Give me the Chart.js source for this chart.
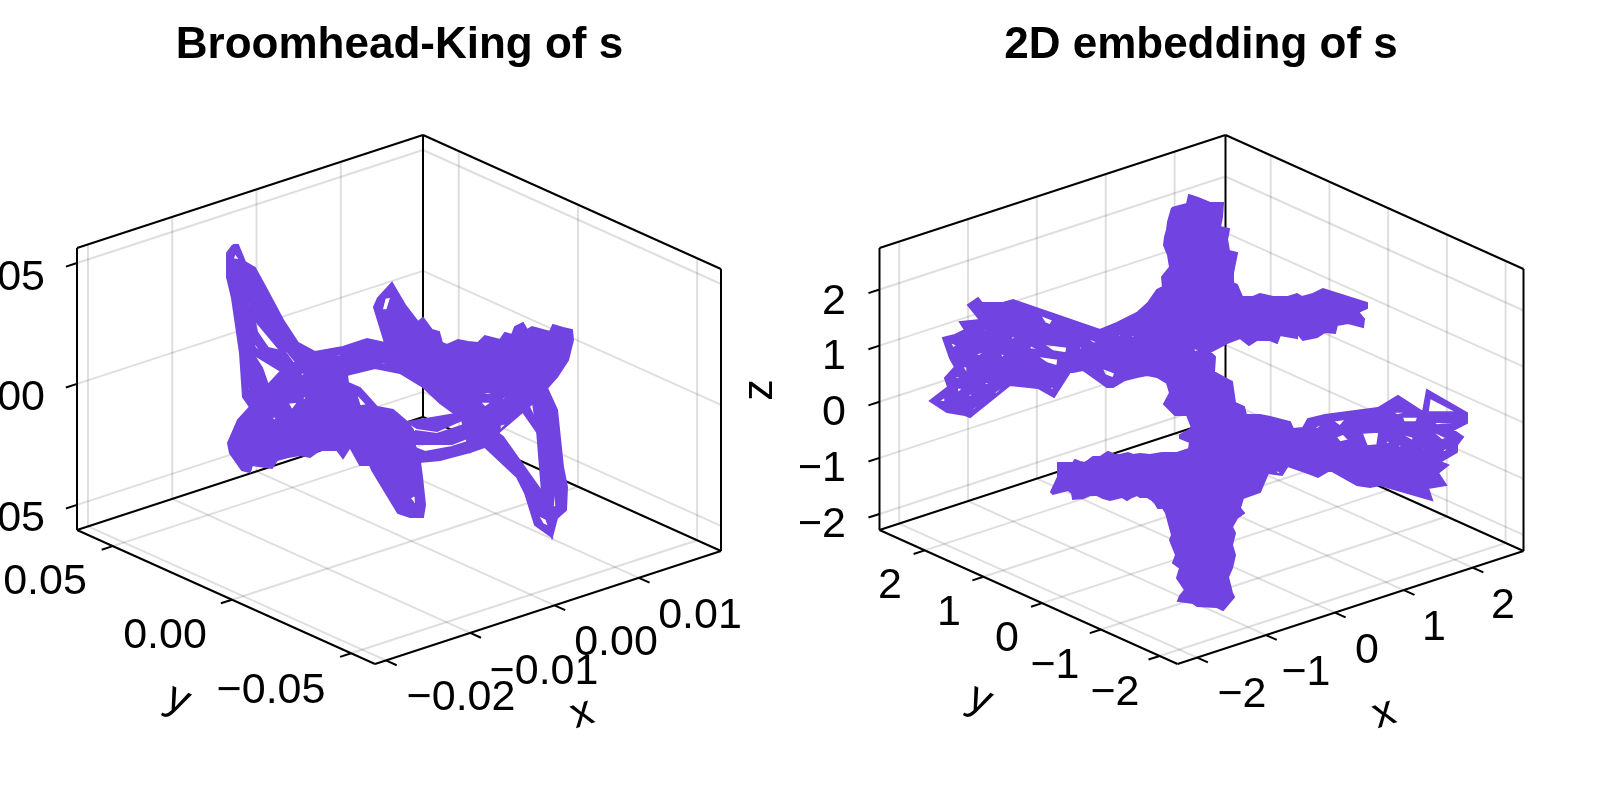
<!DOCTYPE html>
<html>
<head>
<meta charset="utf-8">
<title>Broomhead-King and 2D embedding of s</title>
<script src="https://cdn.jsdelivr.net/npm/chart.js@4/dist/chart.umd.min.js"></script>
<style>
  html, body { margin: 0; padding: 0; background: #fff; }
  #wrap { display: flex; width: 1600px; height: 800px; overflow: hidden; }
  canvas { display: block; }
</style>
</head>
<body>
<div id="wrap">
  <canvas id="leftChart" width="800" height="800"></canvas>
  <canvas id="rightChart" width="800" height="800"></canvas>
</div>
<script>
// axis values
const bkXTicks = [-0.02, -0.01, 0, 0.01];
const bkXLabels = ['−0.02', '−0.01', '0.00', '0.01'];
const bkYTicks = [-0.05, 0, 0.05];
const bkYLabels = ['−0.05', '0.00', '0.05'];
const bkZTicks = [-0.05, 0, 0.05];
const bkZLabels = ['−0.05', '0.00', '0.05'];
const bkXLimits = [-0.0213, 0.01975];
const bkYLimits = [-0.06, 0.065];
const bkZLimits = [-0.0604, 0.0562];

const embTicks = [-2, -1, 0, 1, 2];
const embLabels = ['−2', '−1', '0', '1', '2'];
const embXLimits = [-2.286, 2.739];
const embYLimits = [-2.305, 2.77];
const embZLimits = [-2.286, 2.739];

// traces, in page pixels
const bkSpineOuter = [[233,245],[238,245],[245,262],[255,268],[267,290],[283,320],[298,343],[315,352],[330,368],[296,362],[287,351],[280,350],[255,320],[250,300],[227,277],[227,253]];
const bkSpineOuterHoles = [[[235,253],[240,260],[233,259]]];
const bkSpineMiddle = [[250,300],[257,332],[268,348],[285,352],[293,363],[281,371],[253,354],[255,348],[262,353],[253,340]];
const bkSpineInner = [[227,277],[248,298],[253,340],[255,348],[253,354],[262,368],[268,385],[250,407],[243,397],[240,353],[232,298]];
const bkSpineInnerHoles = [[[248,380],[250,390],[248,390]]];
const bkMass = [[250,407],[238,420],[228,443],[230,453],[242,470],[250,472],[252,465],[272,468],[277,460],[288,457],[300,455],[310,457],[320,450],[337,450],[343,458],[350,447],[360,465],[370,465],[372,470],[398,513],[410,517],[423,517],[425,505],[422,477],[420,462],[415,446],[413,430],[407,422],[393,410],[377,407],[360,388],[348,383],[347,375],[330,365],[315,352],[296,362],[281,371],[268,385]];
const bkMassHoles = [
    [[300,373],[306,373],[302,376]], [[283,387],[290,385],[285,388]], [[288,403],[298,402],[292,410]],
    [[302,398],[307,395],[305,400]], [[272,417],[277,417],[274,421]], [[356,393],[367,405],[360,406]],
    [[402,497],[405,497],[403,500]], [[410,498],[415,495],[416,506]]
];
const bkArc = [[315,352],[343,347],[367,339],[385,343],[374,307],[378,298],[392,283],[405,305],[418,322],[423,318],[432,330],[439,332],[442,343],[447,345],[458,340],[468,342],[478,343],[485,336],[500,340],[505,333],[512,335],[515,327],[523,323],[527,330],[532,327],[550,332],[553,325],[563,328],[572,330],[573,340],[568,360],[557,377],[547,388],[533,403],[498,433],[470,452],[462,420],[455,414],[440,403],[423,387],[400,373],[375,368],[347,375],[330,365]];
const bkArcHoles = [
    [[385,298],[391,297],[387,310],[382,310]],
    [[332,355],[348,353],[340,356]], [[388,353],[397,355],[392,354]], [[380,362],[393,363],[382,364]],
    [[483,393],[500,391],[487,395]], [[480,402],[492,402],[485,407]], [[502,398],[507,395],[504,400]],
    [[500,425],[507,423],[500,431]]
];
const bkBandTop = [[407,422],[420,420],[455,414],[462,420],[437,431],[417,428]];
const bkBandMiddle = [[415,431],[437,434],[470,423],[475,435],[452,444],[415,444]];
const bkBandBottom = [[415,448],[425,452],[452,447],[480,438],[498,433],[485,447],[470,452],[440,460],[420,462]];
const bkLegLeft = [[485,447],[498,433],[503,437],[542,492],[548,515],[552,537],[535,525],[525,493],[517,477]];
const bkLegLeftHoles = [[[538,515],[546,519],[549,527],[543,524]]];
const bkLegMid = [[523,403],[527,403],[537,423],[540,432],[537,432],[523,412]];
const bkLegRight = [[533,403],[547,388],[557,410],[563,467],[567,487],[566,510],[557,518],[552,537],[546,515],[542,492],[537,430]];
const bkLegRightHoles = [[[555,485],[556,507],[553,507]]];

const embOutline = [[1172,208],[1187,204],[1189,195],[1198,198],[1210,203],[1223,203],[1222,217],[1220,227],[1229,229],[1228,235],[1227,239],[1229,251],[1237,253],[1233,273],[1233,283],[1237,285],[1242,297],[1253,297],[1260,294],[1273,297],[1288,297],[1297,294],[1302,297],[1313,294],[1323,289],[1367,303],[1367,308],[1358,312],[1364,319],[1363,327],[1348,323],[1337,325],[1335,333],[1325,332],[1317,337],[1303,340],[1297,333],[1297,338],[1280,335],[1277,343],[1270,340],[1257,340],[1249,345],[1240,338],[1227,343],[1210,352],[1215,357],[1214,372],[1232,382],[1235,403],[1244,407],[1246,415],[1260,415],[1270,417],[1290,422],[1293,429],[1303,428],
    [1308,419],[1325,415],[1378,408],[1398,396],[1423,412],[1427,390],[1467,413],[1467,423],[1453,430],[1463,437],[1457,445],[1457,452],[1440,462],[1448,465],[1438,473],[1446,485],[1428,488],[1432,500],[1380,485],[1370,487],[1357,485],[1330,470],[1318,477],[1308,473],[1288,466],
    [1287,467],[1282,475],[1268,473],[1260,492],[1243,498],[1240,508],[1244,513],[1237,518],[1232,527],[1235,533],[1232,545],[1235,555],[1232,568],[1228,577],[1232,593],[1234,597],[1223,610],[1217,607],[1197,606],[1193,603],[1178,601],[1180,596],[1185,590],[1177,578],[1180,568],[1173,563],[1176,555],[1170,540],[1172,535],[1166,513],[1163,508],[1158,508],[1155,503],[1152,500],[1147,497],[1140,497],[1137,495],[1132,497],[1127,500],[1122,497],[1110,500],[1103,498],[1097,495],[1090,495],[1083,498],[1073,499],[1072,493],[1068,490],[1053,494],[1051,492],[1058,477],[1058,463],[1073,463],[1075,460],[1080,462],[1085,463],[1093,457],[1100,457],[1108,452],[1115,455],[1120,455],[1128,453],[1133,455],[1140,454],[1150,455],[1162,453],[1167,453],[1177,453],[1189,449],[1190,442],[1180,438],[1180,435],[1192,428],[1187,415],[1175,415],[1164,404],[1170,393],[1167,383],[1157,377],[1147,375],[1137,377],[1125,380],[1113,387],[1107,387],
    [1083,370],[1073,372],[1070,372],[1054,397],[1038,388],[1010,385],[970,417],[965,415],[947,412],[930,401],[948,387],[945,378],[955,367],[950,358],[943,338],[955,335],[965,330],[960,322],[980,320],[968,305],[978,298],[982,303],[1003,303],[1013,300],[1100,330],
    [1117,323],[1137,313],[1148,303],[1157,290],[1163,287],[1162,277],[1170,267],[1168,255],[1164,245],[1165,237],[1167,230],[1168,222]];
const embHoles = [
    // left wing
    [[1040,315],[1053,320],[1050,325],[1045,323]], [[979,327],[993,332],[985,331]], [[1085,337],[1100,343],[1093,343]],
    [[1043,344],[1067,347],[1066,353],[1053,351]], [[1029,345],[1041,350],[1030,349]], [[1077,343],[1084,350],[1080,349]],
    [[950,342],[957,345],[953,348]], [[975,354],[987,351],[979,356]], [[1000,353],[1005,355],[1002,358]],
    [[1037,356],[1058,359],[1057,366],[1047,363]], [[1027,359],[1045,367],[1032,363]], [[962,366],[967,367],[967,374]],
    [[953,375],[962,378],[957,379]], [[985,382],[992,383],[985,385]], [[957,388],[963,388],[958,393]],
    [[968,395],[975,392],[970,397]], [[995,392],[1008,383],[995,395]], [[973,408],[990,398],[972,411]],
    [[939,401],[945,397],[945,402]], [[970,337],[975,342],[972,341]], [[1011,337],[1017,336],[1012,340]],
    [[1050,387],[1054,387],[1052,391]],
    // middle of the upper cross
    [[1102,368],[1115,373],[1113,378],[1105,375]], [[1118,335],[1122,334],[1120,337]], [[1130,335],[1137,337],[1132,338]],
    [[1120,358],[1123,361],[1121,362]], [[1148,368],[1155,369],[1150,370]], [[1163,356],[1167,357],[1164,358]],
    [[1193,348],[1200,350],[1195,352]], [[1210,341],[1214,343],[1211,344]],
    // spots on the lower cross
    [[1212,437],[1215,437],[1213,439]], [[1222,436],[1225,435],[1223,438]], [[1234,435],[1237,434],[1235,436]],
    [[1275,439],[1279,439],[1277,441]], [[1285,448],[1289,450],[1286,451]], [[1274,470],[1282,472],[1278,474]],
    // right wing
    [[1430,398],[1457,412],[1428,412]], [[1402,417],[1418,417],[1416,422],[1404,422]], [[1393,412],[1410,412],[1397,415]],
    [[1433,422],[1455,423],[1437,425]], [[1362,433],[1379,432],[1377,445],[1367,446]], [[1336,437],[1343,434],[1349,440],[1340,442]],
    [[1333,421],[1346,419],[1340,426]], [[1315,427],[1326,422],[1317,429]], [[1398,433],[1413,437],[1413,441]],
    [[1385,441],[1390,441],[1388,445]], [[1397,445],[1402,445],[1400,448]], [[1422,447],[1432,450],[1423,449]],
    [[1442,450],[1449,447],[1445,452]], [[1347,453],[1360,452],[1348,454]], [[1348,472],[1357,477],[1353,475]],
    [[1430,430],[1447,438],[1442,440]]
];

// screen geometry of the box: bottom front corner and the three edges
const boxOrigin = [375, 664];
const edgeX = [346, -113];
const edgeY = [-298, -134];
const edgeZ = [0, -282];
const panelOffset = 802.5;

const purple = '#7143E0';
const gridColor = 'rgba(0,0,0,0.13)';

function frac(v, lim) { return (v - lim[0]) / (lim[1] - lim[0]); }

function project(dx, fx, fy, fz) {
    return {
        x: boxOrigin[0] + dx + fx * edgeX[0] + fy * edgeY[0] + fz * edgeZ[0],
        y: boxOrigin[1] + fx * edgeX[1] + fy * edgeY[1] + fz * edgeZ[1]
    };
}

function pts(list) { return list.map(p => ({ x: p[0], y: p[1] })); }

function area(list) {
    let a = 0;
    list.forEach((p, i) => {
        const q = list[(i + 1) % list.length];
        a += p[0] * q[1] - q[0] * p[1];
    });
    return a;
}

function lineSet(data, color, width, order) {
    return { data, showLine: true, borderColor: color, borderWidth: width, pointRadius: 0, fill: false, order, clip: false, borderJoinStyle: 'miter', borderCapStyle: 'butt' };
}

// filled silhouette of a dense part of the trace. holes run the other way round
// and are stitched in from the first vertex, so the nonzero fill leaves them empty
function shapeSets(outer, holes = []) {
    let path = outer.concat([outer[0]]);
    const sign = Math.sign(area(outer));
    const sets = [];
    holes.forEach(h => {
        const ring = Math.sign(area(h)) === sign ? h.slice().reverse() : h;
        path = path.concat(ring, [ring[0]], [outer[0]]);
        sets.push(lineSet(pts(ring.concat([ring[0]])), purple, 1.5, 1));
    });
    const fillSet = lineSet(pts(path), 'transparent', 1, 1);
    fillSet.fill = 'shape';
    fillSet.backgroundColor = purple;
    sets.push(fillSet, lineSet(pts(outer.concat([outer[0]])), purple, 2, 1));
    return sets;
}

function boxSets(dx, fxs, fys, fzs) {
    const sets = [];
    const add = (a, b, color, w, order) => sets.push(lineSet([project(dx, ...a), project(dx, ...b)], color, w, order));
    fxs.forEach(f => {
        add([f, 1, 0], [f, 1, 1], gridColor, 2, 5);
        add([f, 0, 0], [f, 1, 0], gridColor, 2, 5);
        // tick on the x axis
        sets.push(lineSet([project(dx, f, 0, 0), project(dx, f, -0.036, 0)], '#000', 2, 3));
    });
    fys.forEach(f => {
        add([1, f, 0], [1, f, 1], gridColor, 2, 5);
        add([0, f, 0], [1, f, 0], gridColor, 2, 5);
        sets.push(lineSet([project(dx, 0, f, 0), project(dx, -0.032, f, 0)], '#000', 2, 3));
    });
    fzs.forEach(f => {
        add([0, 1, f], [1, 1, f], gridColor, 2, 5);
        add([1, 0, f], [1, 1, f], gridColor, 2, 5);
        sets.push(lineSet([project(dx, 0, 1, f), project(dx, -0.032, 1, f)], '#000', 2, 3));
    });
    const spines = [
        [[0,1,1],[1,1,1]], [[1,1,1],[1,0,1]], [[1,1,1],[1,1,0]], [[0,1,1],[0,1,0]], [[1,0,1],[1,0,0]],
        [[0,1,0],[1,1,0]], [[1,1,0],[1,0,0]], [[0,1,0],[0,0,0]], [[0,0,0],[1,0,0]]
    ];
    spines.forEach(s => add(s[0], s[1], '#000', 2, 3));
    return sets;
}

// titles, tick labels and axis labels
function textPlugin(items) {
    return {
        id: 'panelText',
        afterDraw(chart) {
            const ctx = chart.ctx;
            const xs = chart.scales.x, ys = chart.scales.y;
            items.forEach(t => {
                ctx.save();
                ctx.translate(xs.getPixelForValue(t.x), ys.getPixelForValue(t.y));
                ctx.rotate((t.rot || 0) * Math.PI / 180);
                ctx.font = (t.bold ? 'bold ' : '') + t.size + 'px "Liberation Sans", Arial, sans-serif';
                ctx.fillStyle = '#000';
                ctx.textAlign = t.align || 'center';
                ctx.textBaseline = 'middle';
                ctx.fillText(t.text, 0, 0);
                ctx.restore();
            });
        }
    };
}

function makePanel(id, xMin, datasets, items) {
    return new Chart(document.getElementById(id), {
        type: 'scatter',
        data: { datasets },
        options: {
            responsive: false,
            animation: false,
            layout: { padding: 0 },
            plugins: { legend: { display: false }, tooltip: { enabled: false } },
            scales: {
                x: { display: false, min: xMin, max: xMin + 800 },
                y: { display: false, min: 0, max: 800, reverse: true }
            }
        },
        plugins: [textPlugin(items)]
    });
}

const tickSize = 43;
const bkPlace = {
    x: [[461,698],[544,672],[616,643],[700,616]],
    y: [[271,691],[165,636],[45,582]],
    z: [[45,519],[45,398],[45,278]]
};
const embPlace = {
    x: [[1242,695],[1306,673],[1367,651],[1434,628],[1503,606]],
    y: [[1115,693],[1055,666],[1007,639],[949,613],[890,586]],
    z: [[846,525],[846,469],[846,413],[846,357],[846,302]]
};

function labelItems(xl, yl, zl, place) {
    const items = [];
    xl.forEach((t, i) => items.push({ text: t, x: place.x[i][0], y: place.x[i][1], size: tickSize }));
    yl.forEach((t, i) => items.push({ text: t, x: place.y[i][0], y: place.y[i][1], size: tickSize }));
    zl.forEach((t, i) => items.push({ text: t, x: place.z[i][0], y: place.z[i][1], size: tickSize, align: 'right' }));
    return items;
}

const leftSets = boxSets(0,
    bkXTicks.map(v => frac(v, bkXLimits)),
    bkYTicks.map(v => frac(v, bkYLimits)),
    bkZTicks.map(v => frac(v, bkZLimits)));
leftSets.push(
    ...shapeSets(bkSpineOuter, bkSpineOuterHoles), ...shapeSets(bkSpineMiddle), ...shapeSets(bkSpineInner, bkSpineInnerHoles),
    ...shapeSets(bkMass, bkMassHoles), ...shapeSets(bkArc, bkArcHoles),
    ...shapeSets(bkBandTop), ...shapeSets(bkBandMiddle), ...shapeSets(bkBandBottom),
    ...shapeSets(bkLegLeft, bkLegLeftHoles), ...shapeSets(bkLegMid), ...shapeSets(bkLegRight, bkLegRightHoles));

const leftItems = labelItems(bkXLabels, bkYLabels, bkZLabels, bkPlace).concat([
    { text: 'Broomhead-King of s', x: 399.5, y: 46, size: 44, bold: true },
    { text: 'x', x: 582, y: 714, size: 43, rot: -18 },
    { text: 'y', x: 178, y: 700, size: 43, rot: 24 },
    { text: 'z', x: 760, y: 390, size: 43, rot: -90 }
]);

const rightSets = boxSets(panelOffset,
    embTicks.map(v => frac(v, embXLimits)),
    embTicks.map(v => frac(v, embYLimits)),
    embTicks.map(v => frac(v, embZLimits)));
rightSets.push(...shapeSets(embOutline, embHoles));

const rightItems = labelItems(embLabels, embLabels, embLabels, embPlace).concat([
    { text: '2D embedding of s', x: 1201, y: 46, size: 44, bold: true },
    { text: 'x', x: 1384, y: 714, size: 43, rot: -18 },
    { text: 'y', x: 980, y: 700, size: 43, rot: 24 }
]);

makePanel('leftChart', 0, leftSets, leftItems);
makePanel('rightChart', 800, rightSets, rightItems);
</script>
</body>
</html>
